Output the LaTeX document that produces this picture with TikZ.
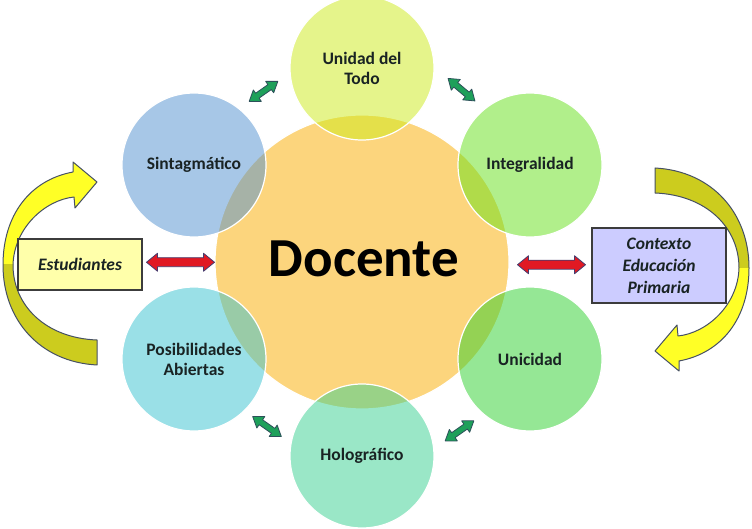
\documentclass[tikz,border=0pt]{standalone}
\usepackage{fontspec}
\setmainfont{Carlito}
\usetikzlibrary{calc}
\definecolor{corange}{RGB}{252,213,125}
\definecolor{cU}{RGB}{205,235,25}
\definecolor{cI}{RGB}{101,225,25}
\definecolor{cUn}{RGB}{45,209,45}
\definecolor{cH}{RGB}{55,209,145}
\definecolor{cP}{RGB}{55,195,209}
\definecolor{cS}{RGB}{81,145,209}
\definecolor{labtext}{RGB}{25,35,35}
\definecolor{garrow}{RGB}{30,160,90}
\definecolor{garrowline}{RGB}{45,80,90}
\definecolor{rarrow}{RGB}{225,25,35}
\definecolor{rarrowline}{RGB}{70,60,110}
\definecolor{cstud}{RGB}{255,255,170}
\definecolor{ccont}{RGB}{204,204,255}
\definecolor{boxline}{RGB}{60,60,60}
\definecolor{cbright}{RGB}{255,255,38}
\definecolor{colive}{RGB}{204,204,30}
\definecolor{curveline}{RGB}{70,80,100}
\tikzset{
  pics/dbarrow/.style args={#1/#2/#3/#4}{code={
    \path[pic actions] (-#1,0) -- ({-#1+#4},#3) -- ({-#1+#4},#2) -- ({#1-#4},#2) -- ({#1-#4},#3) -- (#1,0) -- ({#1-#4},-#3) -- ({#1-#4},-#2) -- ({-#1+#4},-#2) -- ({-#1+#4},-#3) -- cycle;
  }},
  sat/.style={circle, minimum size=144pt, inner sep=0pt, draw=white, line width=1.2pt,
    fill opacity=0.5, text opacity=1, draw opacity=1, text=labtext,
    font=\fontsize{17.5}{20}\selectfont\bfseries, align=center},
  infobox/.style={draw=boxline, line width=1.2pt, inner sep=0pt, text=labtext, align=center,
    font=\fontsize{17.5}{22}\selectfont\bfseries\itshape},
  garr/.style={draw=garrowline, fill=garrow, line width=0.8pt, line join=round},
  rarr/.style={draw=rarrowline, fill=rarrow, line width=0.8pt, line join=round},
}
\newcommand\yellowcurve[1]{%
 \begin{scope}[#1]
  \begin{scope}
   \clip (-10,263) rectangle (120,400);
   \fill[cbright] (97,163) .. controls (40,166) and (3,208) .. (3,263) .. controls (3,313) and (30,348) .. (73,356) -- (73,366) -- (97,346) -- (75,320) -- (74,331) .. controls (45,328) and (14,300) .. (13,263) .. controls (13,223) and (45,190) .. (97,188) -- cycle;
  \end{scope}
  \begin{scope}
   \clip (-10,263) rectangle (120,100);
   \fill[colive] (97,163) .. controls (40,166) and (3,208) .. (3,263) .. controls (3,313) and (30,348) .. (73,356) -- (73,366) -- (97,346) -- (75,320) -- (74,331) .. controls (45,328) and (14,300) .. (13,263) .. controls (13,223) and (45,190) .. (97,188) -- cycle;
  \end{scope}
  \draw[curveline, line width=1pt, line join=round] (97,163) .. controls (40,166) and (3,208) .. (3,263) .. controls (3,313) and (30,348) .. (73,356) -- (73,366) -- (97,346) -- (75,320) -- (74,331) .. controls (45,328) and (14,300) .. (13,263) .. controls (13,223) and (45,190) .. (97,188) -- cycle;
 \end{scope}}
\begin{document}
\begin{tikzpicture}[x=1pt,y=1pt]
\useasboundingbox (0,0) rectangle (752,528);
\fill[white] (0,0) rectangle (752,528);
% curved arrows
\yellowcurve{}
\yellowcurve{rotate around={180:(376,261.5)}}
% central circle
\node[circle, minimum size=294pt, inner sep=0pt, fill=corange, draw=white, line width=1.2pt] (C) at (362,266) {};
% satellites
\node[sat, fill=cU]  (U)  at ($(C)+(90:194)$)   {Unidad del\\Todo};
\node[sat, fill=cI]  (I)  at ($(C)+(30:194)$)   {Integralidad};
\node[sat, fill=cUn] (Un) at ($(C)+(-30:194)$)  {Unicidad};
\node[sat, fill=cH]  (H)  at ($(C)+(-90:194)$)  {Holográfico};
\node[sat, fill=cP]  (P)  at ($(C)+(-150:194)$) {Posibilidades\\Abiertas};
\node[sat, fill=cS]  (S)  at ($(C)+(150:194)$)  {Sintagmático};
% center label
\node[font=\fontsize{55}{60}\selectfont\bfseries, text=black] (D) at ($(C)+(2,3)$) {Docente};
% green double arrows
\pic[garr, rotate=35]  at ($(C)+(120:197)$) {dbarrow=17.5/3/7/10};
\pic[garr, rotate=-40] at ($(C)+(60:199)$)  {dbarrow=17.5/3/7/10};
\pic[garr, rotate=-35] at ($(C)+(240:190)$) {dbarrow=17.5/3/7/10};
\pic[garr, rotate=35]  at ($(C)+(300:195)$) {dbarrow=17.5/3/7/10};
% boxes
\node[infobox, fill=cstud, minimum width=124pt, minimum height=51pt] (E) at (80,263.5) {Estudiantes};
\node[infobox, fill=ccont, minimum width=134pt, minimum height=75pt] (K) at (659,262.5) {Contexto\\Educación\\Primaria};
% red double arrows
\pic[rarr] at ($(E.east)!0.5!(C.west)+(2,1)$) {dbarrow=34/4.5/9/11};
\pic[rarr] at ($(C.east)!0.5!(K.west)+(1,-1)$) {dbarrow=34/4.5/9/11};
\end{tikzpicture}
\end{document}
